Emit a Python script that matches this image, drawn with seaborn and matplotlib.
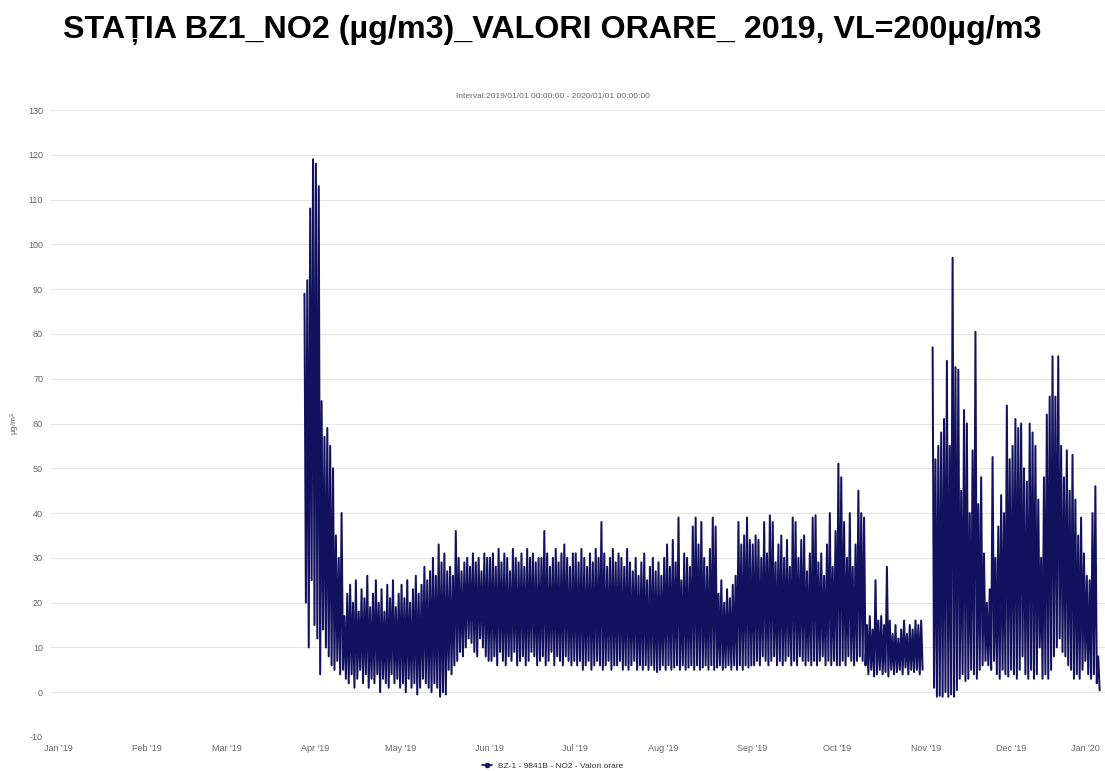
# statia BZ1 - NO2 valori orare 2019 (maxime / minime zilnice)
import numpy as np
import pandas as pd
import seaborn as sns
import matplotlib.pyplot as plt
from matplotlib.lines import Line2D

nan = np.nan

# maxime zilnice, 28 mar - 31 dec 2019
hi_mar = [89, 92, 108, 119]
hi_apr = [118, 113, 65, 57, 59, 55, 50, 35, 30, 40, 17, 22, 24, 20, 25, 18, 23, 21, 26, 19,
          22, 25, 20, 23, 18, 24, 21, 25, 19, 22]
hi_mai = [24, 21, 25, 20, 23, 26, 22, 24, 28, 25, 27, 30, 26, 33, 29, 31, 27, 28, 26, 36,
          30, 27, 29, 30, 28, 31, 29, 30, 27, 31, 30]
hi_iun = [30, 31, 28, 32, 29, 31, 30, 27, 32, 30, 29, 31, 28, 32, 30, 31, 29, 30, 30, 36,
          31, 28, 30, 32, 29, 31, 33, 30, 28, 31]
hi_iul = [31, 29, 32, 30, 28, 31, 29, 32, 30, 38, 31, 28, 30, 32, 29, 31, 30, 28, 32, 29,
          27, 30, 26, 29, 31, 25, 28, 30, 27, 29, 26]
hi_aug = [30, 33, 28, 34, 29, 39, 25, 31, 30, 28, 37, 39, 33, 38, 30, 28, 32, 39, 37, 22,
          25, 20, 23, 21, 24, 26, 38, 33, 35, 39, 34]
hi_sep = [33, 35, 34, 30, 38, 31, 39.5, 38, 29, 33, 35, 30, 34, 28, 39, 38, 30, 34, 35, 27,
          31, 39, 39.5, 29, 31, 26, 33, 40, 28, 36]
hi_oct = [51, 48, 38, 30, 40, 28, 33, 45, 40, 39, 15, 17, 14, 25, 16, 17, 15, 28, 16, 13,
          15, 12, 14, 16, 13, 15, 14, 16, 15, 16, nan]
hi_nov = [nan, nan, 77, 52, 55, 58, 61, 74, 55, 97, 72.6, 72, 45, 63, 60, 40, 54, 80.5, 42, 48,
          31, 20, 23, 52.5, 30, 37, 44, 40, 64, 52]
hi_dec = [55, 61, 59, 60, 50, 47, 60, 58, 55, 43, 30, 48, 62, 66, 75, 66, 75, 55, 48, 54,
          45, 53, 43, 35, 39, 31, 26, 25, 40, 46, 8]

# minime zilnice
lo_mar = [20, 10, 25, 15]
lo_apr = [12, 4, 14, 10, 8, 6, 5, 7, 4, 5, 3, 2, 4, 1, 3, 5, 2, 4, 1, 3,
          2, 4, 0, 3, 2, 1, 4, 2, 3, 1]
lo_mai = [2, 0, 3, 1, 2, -0.5, 1, 3, 2, 1, 0, 2, 1, -1, 0, -0.5, 5, 4, 6, 7,
          9, 8, 10, 12, 11, 9, 8, 12, 10, 8, 7]
lo_iun = [7, 8, 6, 9, 7, 6, 8, 7, 9, 6, 7, 8, 6, 7, 9, 8, 6, 7, 8, 6,
          7, 9, 6, 8, 7, 6, 8, 7, 6, 7]
lo_iul = [6, 7, 5, 6, 7, 5, 6, 7, 6, 5, 6, 7, 5, 6, 6, 7, 5, 6, 5, 6,
          7, 5, 6, 5, 6, 5, 6, 5, 4.5, 5, 6]
lo_aug = [5, 6, 5, 5.5, 6, 5, 6, 5, 5.5, 6, 5, 6, 5, 5.5, 6, 5, 6, 5, 5.5, 6,
          5, 5.5, 6, 5, 6, 5, 6, 5, 6, 5.5, 6]
lo_sep = [6, 7, 6, 8, 7, 6, 7, 8, 6, 7, 6, 7, 8, 6, 7, 6, 8, 7, 6, 7,
          6, 7, 6, 7, 8, 6, 7, 6, 7, 6]
lo_oct = [6, 7, 6, 8, 7, 6, 7, 8, 7, 6, 4, 5, 3.5, 4, 5, 4, 4.5, 3.5, 5, 4,
          4.5, 5, 4, 5.5, 4, 5, 4.5, 5, 4, 5, nan]
lo_nov = [nan, nan, 1, -1, -0.8, -1, 0, -1, -0.5, -1, 0.5, 3, 4, 2.5, 3, 5, 4, 3, 5, 6,
          7, 6, 5, 7, 4, 3, 5, 4, 3.5, 5]
lo_dec = [4, 3, 5, 8, 4, 3, 5, 3, 4, 10, 3, 4, 3, 5, 8, 10, 12, 9, 8, 6,
          5, 3, 4, 3, 5, 7, 4, 3, 4, 2, 0.4]

hi = hi_mar + hi_apr + hi_mai + hi_iun + hi_iul + hi_aug + hi_sep + hi_oct + hi_nov + hi_dec
lo = lo_mar + lo_apr + lo_mai + lo_iun + lo_iul + lo_aug + lo_sep + lo_oct + lo_nov + lo_dec

zile = pd.date_range('2019-03-28', '2019-12-31', freq='D')

# maxim dimineata, minim seara
df = pd.DataFrame({
    'data': list(zile + pd.Timedelta(hours=8)) + list(zile + pd.Timedelta(hours=20)),
    'NO2': hi + lo,
}).sort_values('data').reset_index(drop=True)
df['seg'] = df['NO2'].isna().cumsum()  # lipsa date -> linie intrerupta
df = df.dropna()

culoare = '#11115e'

sns.set_style('white')
plt.rcParams['font.family'] = ['Liberation Sans', 'DejaVu Sans']
plt.rcParams['axes.unicode_minus'] = False

fig = plt.figure(figsize=(11.05, 7.71), dpi=100)
ax = fig.add_axes([50 / 1105, 34 / 771, 1055 / 1105, 627 / 771])

sns.lineplot(data=df, x='data', y='NO2', units='seg', estimator=None,
             color=culoare, lw=1.45, ax=ax)

ax.set_ylim(-10, 130)
ax.set_yticks(range(-10, 131, 10))
luni = pd.date_range('2019-01-01', '2020-01-01', freq='MS')
ax.set_xticks(luni)
ax.set_xticklabels([d.strftime("%b '%y") for d in luni])
ax.get_xticklabels()[-1].set_ha('right')  # ultima eticheta la marginea figurii
ax.set_xlim(pd.Timestamp('2018-12-29 05:00'), pd.Timestamp('2020-01-02 17:00'))
ax.grid(axis='y', color='#e6e6e6', lw=0.8)
ax.set_axisbelow(True)
sns.despine(ax=ax, left=True, bottom=True)
ax.tick_params(length=0, labelsize=6.5, labelcolor='#666666', pad=5)
ax.set_xlabel('')
ax.set_ylabel('µg/m³', fontsize=6, color='#666666', labelpad=8)

fig.text(0.5, 1 - 30 / 771, 'STAȚIA BZ1_NO2 (µg/m3)_VALORI ORARE_ 2019, VL=200µg/m3',
         ha='center', va='center', fontsize=23.2, fontweight='bold', color='black')
fig.text(0.5, 1 - 97 / 771, 'Interval:2019/01/01 00:00:00 - 2020/01/01 00:00:00',
         ha='center', va='center', fontsize=6, color='#666666')

h = Line2D([], [], color=culoare, lw=1.2, marker='o', markersize=3)
fig.legend([h], ['BZ-1 - 9841B - NO2 - Valori orare'], loc='center',
           bbox_to_anchor=(0.5, 5 / 771), frameon=False, fontsize=6,
           handlelength=1.2, labelcolor='#333333')

fig.savefig('out.png', dpi=100)
